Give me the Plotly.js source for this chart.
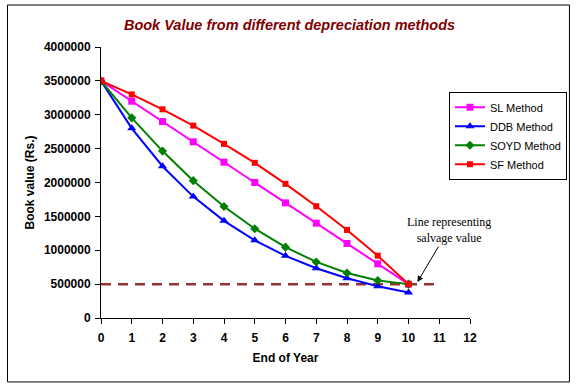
<!DOCTYPE html>
<html>
<head>
<meta charset="utf-8">
<script src="https://cdn.plot.ly/plotly-3.0.1.min.js"></script>
<style>html,body{margin:0;padding:0;background:#fff;}#chart{width:579px;height:390px;}</style>
</head>
<body>
<div id="chart"></div>
<script>
var years = [0, 1, 2, 3, 4, 5, 6, 7, 8, 9, 10];
var slValues = [3500000, 3200000, 2900000, 2600000, 2300000, 2000000, 1700000, 1400000, 1100000, 800000, 500000];
var ddbValues = [3500000, 2800000, 2240000, 1792000, 1433600, 1146880, 917504, 734003, 587203, 469762, 375810];
var soydValues = [3500000, 2954545, 2463636, 2027273, 1645455, 1318182, 1045455, 827273, 663636, 554545, 500000];
var sfValues = [3500000, 3300000, 3080000, 2840000, 2570000, 2290000, 1980000, 1650000, 1300000, 920000, 500000];
var salvageX = [0, 11];
var salvageY = [500000, 500000];
var seriesNames = ['SL Method', 'DDB Method', 'SOYD Method', 'SF Method'];
var xTicks = [0, 1, 2, 3, 4, 5, 6, 7, 8, 9, 10, 11, 12];
var yTicks = [0, 500000, 1000000, 1500000, 2000000, 2500000, 3000000, 3500000, 4000000];

var traces = [
  {x: salvageX, y: salvageY, mode: 'lines', showlegend: false, hoverinfo: 'skip',
   line: {color: '#993333', width: 2.5, dash: '10px,7px'}},
  {x: years, y: slValues, name: seriesNames[0], mode: 'lines+markers',
   line: {color: '#FF00FF', width: 2}, marker: {symbol: 'square', size: 7, color: '#FF00FF'}},
  {x: years, y: ddbValues, name: seriesNames[1], mode: 'lines+markers',
   line: {color: '#0000FF', width: 2}, marker: {symbol: 'triangle-up', size: 8, color: '#0000FF'}},
  {x: years, y: soydValues, name: seriesNames[2], mode: 'lines+markers',
   line: {color: '#008000', width: 2}, marker: {symbol: 'diamond', size: 7, color: '#008000'}},
  {x: years, y: sfValues, name: seriesNames[3], mode: 'lines+markers',
   line: {color: '#FF0000', width: 2}, marker: {symbol: 'square', size: 6, color: '#FF0000'}}
];

var layout = {
  width: 579, height: 390,
  margin: {l: 101, r: 107, t: 47, b: 72, pad: 0},
  paper_bgcolor: '#ffffff', plot_bgcolor: '#ffffff',
  font: {family: 'Arial, Liberation Sans, sans-serif', size: 12, color: '#000'},
  title: {text: '<b><i>Book Value from different depreciation methods</i></b>',
          font: {family: 'Arial, Liberation Sans, sans-serif', size: 14.5, color: '#800000'},
          x: 0.5, xref: 'container', xanchor: 'center', y: 0.936, yref: 'container', yanchor: 'middle'},
  xaxis: {range: [0, 12], tickvals: xTicks, ticktext: xTicks.map(String), showgrid: false, zeroline: false,
          showline: true, linecolor: '#000', linewidth: 1, ticks: 'outside', ticklen: 5, tickcolor: '#000',
          ticklabelstandoff: 4,
          tickfont: {family: 'Arial, Liberation Sans, sans-serif', size: 12, color: '#000', weight: 'bold'},
          title: {text: '<b>End of Year</b>', font: {size: 12, color: '#000'}, standoff: 9}},
  yaxis: {range: [0, 4000000], tickvals: yTicks, tickformat: 'd', showgrid: false, zeroline: false,
          showline: true, linecolor: '#000', linewidth: 1, ticks: 'outside', ticklen: 5, tickcolor: '#000',
          ticklabelstandoff: 2,
          tickfont: {family: 'Arial, Liberation Sans, sans-serif', size: 12, color: '#000', weight: 'bold'},
          title: {text: '<b>Book value (Rs.)</b>', font: {size: 12, color: '#000'}, standoff: 6}},
  legend: {x: 0.943, y: 0.835, xanchor: 'left', yanchor: 'top', bordercolor: '#000', borderwidth: 1,
           bgcolor: '#fff', font: {size: 11, color: '#000'}, tracegroupgap: 0, itemwidth: 30},
  shapes: [{type: 'rect', xref: 'paper', yref: 'paper', x0: -0.2534, x1: 1.2695, y0: -0.236, y1: 1.155,
            line: {color: '#000', width: 1}}],
  annotations: [
    {x: 10.29, y: 531000, xref: 'x', yref: 'y', ax: 22, ay: -37, text: '', showarrow: true,
     arrowhead: 2, arrowsize: 1.2, arrowwidth: 1, arrowcolor: '#000'},
    {x: 11.32, y: 1306000, xref: 'x', yref: 'y', showarrow: false,
     text: 'Line representing<br>salvage value',
     font: {family: 'Times New Roman, Liberation Serif, serif', size: 12, color: '#000'}}
  ]
};

Plotly.newPlot('chart', traces, layout, {displayModeBar: false, staticPlot: true});
</script>
</body>
</html>
